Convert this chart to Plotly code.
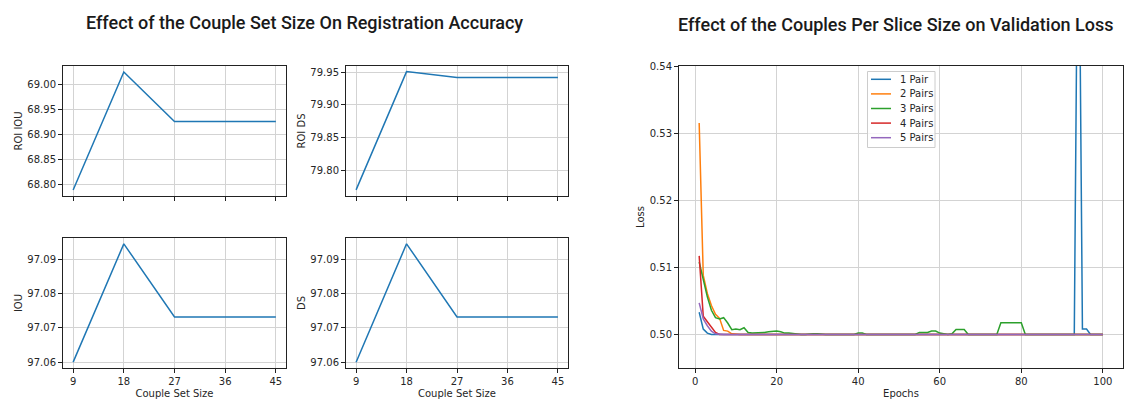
import plotly.graph_objects as go

# ---------------- data ----------------
couple_set_size = [9, 18, 27, 36, 45]
roi_iou = [68.788, 69.026, 68.926, 68.926, 68.926]
roi_ds = [79.770, 79.951, 79.942, 79.942, 79.942]
iou = [97.0600, 97.0945, 97.0732, 97.0732, 97.0732]
ds = [97.0600, 97.0945, 97.0732, 97.0732, 97.0732]

epochs = list(range(1, 101))

loss_1_pair = [
    0.5033, 0.5008, 0.5002, 0.5, 0.5, 0.5, 0.5, 0.5, 0.5, 0.5,
    0.5, 0.5, 0.5, 0.5, 0.5, 0.5, 0.5, 0.5, 0.5, 0.5,
    0.5, 0.5, 0.5, 0.5, 0.5, 0.5, 0.5, 0.5, 0.5, 0.5,
    0.5, 0.5, 0.5, 0.5, 0.5, 0.5, 0.5, 0.5, 0.5, 0.5,
    0.5, 0.5, 0.5, 0.5, 0.5, 0.5, 0.5, 0.5, 0.5, 0.5,
    0.5, 0.5, 0.5, 0.5, 0.5, 0.5, 0.5, 0.5, 0.5, 0.5,
    0.5, 0.5, 0.5, 0.5, 0.5, 0.5, 0.5, 0.5, 0.5, 0.5,
    0.5, 0.5, 0.5, 0.5, 0.5, 0.5, 0.5, 0.5, 0.5, 0.5,
    0.5, 0.5, 0.5, 0.5, 0.5, 0.5, 0.5, 0.5, 0.5, 0.5,
    0.5, 0.5, 0.5, 0.575, 0.5008, 0.5008, 0.5, 0.5, 0.5, 0.5,
]
loss_2_pairs = [
    0.5315, 0.5088, 0.5061, 0.5043, 0.5030, 0.5024, 0.5006, 0.5005, 0.5001, 0.5,
    0.5, 0.5, 0.5, 0.5, 0.5, 0.5, 0.5, 0.5, 0.5, 0.5,
    0.5, 0.5, 0.5, 0.5, 0.5, 0.5, 0.5, 0.5, 0.5, 0.5,
    0.5, 0.5, 0.5, 0.5, 0.5, 0.5, 0.5, 0.5, 0.5, 0.5,
    0.5, 0.5, 0.5, 0.5, 0.5, 0.5, 0.5, 0.5, 0.5, 0.5,
    0.5, 0.5, 0.5, 0.5, 0.5, 0.5, 0.5, 0.5, 0.5, 0.5,
    0.5, 0.5, 0.5, 0.5, 0.5, 0.5, 0.5, 0.5, 0.5, 0.5,
    0.5, 0.5, 0.5, 0.5, 0.5, 0.5, 0.5, 0.5, 0.5, 0.5,
    0.5, 0.5, 0.5, 0.5, 0.5, 0.5, 0.5, 0.5, 0.5, 0.5,
    0.5, 0.5, 0.5, 0.5, 0.5, 0.5, 0.5, 0.5, 0.5, 0.5,
]
loss_3_pairs = [
    0.5108, 0.5081, 0.5056, 0.5036, 0.5025, 0.5023, 0.5025, 0.5017, 0.5007, 0.5008,
    0.5007, 0.5010, 0.5003, 0.5002, 0.5002, 0.5002, 0.5003, 0.5004, 0.5005, 0.5005,
    0.5004, 0.5002, 0.5002, 0.5001, 0.5, 0.5, 0.5, 0.5001, 0.5001, 0.5001,
    0.5, 0.5, 0.5, 0.5, 0.5, 0.5, 0.5, 0.5, 0.5, 0.5002,
    0.5002, 0.5, 0.5, 0.5, 0.5, 0.5, 0.5, 0.5, 0.5, 0.5,
    0.5, 0.5, 0.5, 0.5, 0.5003, 0.5003, 0.5003, 0.5005, 0.5005, 0.5002,
    0.5001, 0.5, 0.5001, 0.50075, 0.50075, 0.50075, 0.5, 0.5, 0.5, 0.5,
    0.5, 0.5, 0.5, 0.5, 0.50175, 0.50175, 0.50175, 0.50175, 0.50175, 0.50175,
    0.5, 0.5, 0.5, 0.5, 0.5, 0.5, 0.5, 0.5, 0.5, 0.5,
    0.5, 0.5, 0.5, 0.5, 0.5, 0.5, 0.5, 0.5, 0.5, 0.5,
]
loss_4_pairs = [
    0.5117, 0.5027, 0.5019, 0.5011, 0.5003, 0.5, 0.5, 0.5, 0.5, 0.5,
    0.5, 0.5, 0.5, 0.5, 0.5, 0.5, 0.5, 0.5, 0.5, 0.5,
    0.5, 0.5, 0.5, 0.5, 0.5, 0.5, 0.5, 0.5, 0.5, 0.5,
    0.5, 0.5, 0.5, 0.5, 0.5, 0.5, 0.5, 0.5, 0.5, 0.5,
    0.5, 0.5, 0.5, 0.5, 0.5, 0.5, 0.5, 0.5, 0.5, 0.5,
    0.5, 0.5, 0.5, 0.5, 0.5, 0.5, 0.5, 0.5, 0.5, 0.5,
    0.5, 0.5, 0.5, 0.5, 0.5, 0.5, 0.5, 0.5, 0.5, 0.5,
    0.5, 0.5, 0.5, 0.5, 0.5, 0.5, 0.5, 0.5, 0.5, 0.5,
    0.5, 0.5, 0.5, 0.5, 0.5, 0.5, 0.5, 0.5, 0.5, 0.5,
    0.5, 0.5, 0.5, 0.5, 0.5, 0.5, 0.5, 0.5, 0.5, 0.5,
]
loss_5_pairs = [
    0.5047, 0.5023, 0.5013, 0.5005, 0.5001, 0.5, 0.5, 0.5, 0.5, 0.5,
    0.5, 0.5, 0.5, 0.5, 0.5, 0.5, 0.5, 0.5, 0.5, 0.5,
    0.5, 0.5, 0.5, 0.5, 0.5, 0.5, 0.5, 0.5, 0.5, 0.5,
    0.5, 0.5, 0.5, 0.5, 0.5, 0.5, 0.5, 0.5, 0.5, 0.5,
    0.5, 0.5, 0.5, 0.5, 0.5, 0.5, 0.5, 0.5, 0.5, 0.5,
    0.5, 0.5, 0.5, 0.5, 0.5, 0.5, 0.5, 0.5, 0.5, 0.5,
    0.5, 0.5, 0.5, 0.5, 0.5, 0.5, 0.5, 0.5, 0.5, 0.5,
    0.5, 0.5, 0.5, 0.5, 0.5, 0.5, 0.5, 0.5, 0.5, 0.5,
    0.5, 0.5, 0.5, 0.5, 0.5, 0.5, 0.5, 0.5, 0.5, 0.5,
    0.5, 0.5, 0.5, 0.5, 0.5, 0.5, 0.5, 0.5, 0.5, 0.5,
]

series_names = ["1 Pair", "2 Pairs", "3 Pairs", "4 Pairs", "5 Pairs"]
series_values = [loss_1_pair, loss_2_pairs, loss_3_pairs, loss_4_pairs, loss_5_pairs]
colors = ["#1f77b4", "#ff7f0e", "#2ca02c", "#d62728", "#9467bd"]

size_ticks = [9, 18, 27, 36, 45]
roi_iou_ticks = [68.80, 68.85, 68.90, 68.95, 69.00]
roi_ds_ticks = [79.80, 79.85, 79.90, 79.95]
acc_ticks = [97.06, 97.07, 97.08, 97.09]
epoch_ticks = [0, 20, 40, 60, 80, 100]
loss_ticks = [0.50, 0.51, 0.52, 0.53, 0.54]

# ---------------- figure ----------------
W, H = 1124, 399

def px_x(a, b):
    return [a / W, b / W]

def px_y(top, bottom):
    return [1 - bottom / H, 1 - top / H]

FONT = "DejaVu Sans"
TXT = "#262626"

fig = go.Figure()

small = [
    (roi_iou, "x", "y"),
    (roi_ds, "x2", "y2"),
    (iou, "x3", "y3"),
    (ds, "x4", "y4"),
]
for vals, xa, ya in small:
    fig.add_trace(go.Scatter(x=couple_set_size, y=vals, mode="lines",
                             line=dict(color="#1f77b4", width=1.5),
                             xaxis=xa, yaxis=ya, showlegend=False,
                             hoverinfo="skip"))

for name, vals, col in zip(series_names, series_values, colors):
    fig.add_trace(go.Scatter(x=epochs, y=vals, mode="lines", name=name,
                             line=dict(color=col, width=1.5),
                             xaxis="x5", yaxis="y5", cliponaxis=True,
                             showlegend=False))

def ax(**kw):
    base = dict(showline=True, mirror=True, linecolor="#222222", linewidth=1,
                showgrid=True, gridcolor="#d3d3d3", gridwidth=1,
                ticks="outside", ticklen=4, tickwidth=1, tickcolor="#222222",
                zeroline=False, automargin=False,
                tickfont=dict(family=FONT, size=10, color=TXT),
                title_font=dict(family=FONT, size=10, color=TXT))
    base.update(kw)
    return base

top = px_y(66, 196)
bot = px_y(238, 368)
left = px_x(63, 286)
right = px_x(346, 568)

TITLE_FONT = dict(family="Roboto", size=18, color="#1a1a1a", weight=500)

# compact matplotlib-style legend box (matplotlib spacing is tighter than plotly's)
LEG_X0, LEG_X1, LEG_Y0, LEG_Y1 = 867.5, 935, 71.5, 147.5
shapes = [dict(type="rect", xref="paper", yref="paper",
               x0=LEG_X0 / W, x1=LEG_X1 / W, y0=1 - LEG_Y1 / H, y1=1 - LEG_Y0 / H,
               line=dict(color="#cccccc", width=1),
               fillcolor="rgba(255,255,255,0.8)", layer="above")]
annotations = [
    dict(text="Effect of the Couple Set Size On Registration Accuracy",
         x=304 / W, y=1 - 22 / H, xref="paper", yref="paper",
         xanchor="center", yanchor="middle", showarrow=False, font=TITLE_FONT),
    dict(text="Effect of the Couples Per Slice Size on Validation Loss",
         x=896 / W, y=1 - 24 / H, xref="paper", yref="paper",
         xanchor="center", yanchor="middle", showarrow=False, font=TITLE_FONT),
]
for i, (name, col) in enumerate(zip(series_names, colors)):
    yc = 79.3 + i * 14.6
    shapes.append(dict(type="line", xref="paper", yref="paper",
                       x0=871 / W, x1=891 / W, y0=1 - yc / H, y1=1 - yc / H,
                       line=dict(color=col, width=1.5), layer="above"))
    annotations.append(dict(text=name, x=898 / W, y=1 - yc / H,
                            xref="paper", yref="paper", xanchor="left",
                            yanchor="middle", showarrow=False,
                            font=dict(family=FONT, size=10, color=TXT)))

fig.update_layout(
    width=W, height=H,
    margin=dict(l=0, r=0, t=0, b=0, autoexpand=False),
    paper_bgcolor="white", plot_bgcolor="white",
    font=dict(family=FONT, size=10, color=TXT),
    showlegend=False,
    xaxis=ax(domain=left, anchor="y", range=[7.2, 46.8], tickvals=size_ticks,
             showticklabels=False),
    yaxis=ax(domain=top, anchor="x", range=[68.776, 69.038], tickvals=roi_iou_ticks,
             tickformat=".2f", title=dict(text="ROI IOU", standoff=2)),
    xaxis2=ax(domain=right, anchor="y2", range=[7.2, 46.8], tickvals=size_ticks,
              showticklabels=False),
    yaxis2=ax(domain=top, anchor="x2", range=[79.7606, 79.9596], tickvals=roi_ds_ticks,
              tickformat=".2f", title=dict(text="ROI DS", standoff=2)),
    xaxis3=ax(domain=left, anchor="y3", range=[7.2, 46.8], tickvals=size_ticks,
              title=dict(text="Couple Set Size", standoff=3)),
    yaxis3=ax(domain=bot, anchor="x3", range=[97.0583, 97.0962], tickvals=acc_ticks,
              tickformat=".2f", title=dict(text="IOU", standoff=2)),
    xaxis4=ax(domain=right, anchor="y4", range=[7.2, 46.8], tickvals=size_ticks,
              title=dict(text="Couple Set Size", standoff=3)),
    yaxis4=ax(domain=bot, anchor="x4", range=[97.0583, 97.0962], tickvals=acc_ticks,
              tickformat=".2f", title=dict(text="DS", standoff=2)),
    xaxis5=ax(domain=px_x(679, 1123), anchor="y5", range=[-3.95, 104.95],
              tickvals=epoch_ticks, title=dict(text="Epochs", standoff=3)),
    yaxis5=ax(domain=px_y(66, 368), anchor="x5", range=[0.495, 0.54],
              tickvals=loss_ticks, tickformat=".2f",
              title=dict(text="Loss", standoff=3)),
    shapes=shapes,
    annotations=annotations,
)

fig.write_html(
    "out.html",
    config={"displayModeBar": False},
    post_script="document.body.style.margin='0';document.body.style.padding='0';"
                "document.body.style.overflow='hidden';",
)
